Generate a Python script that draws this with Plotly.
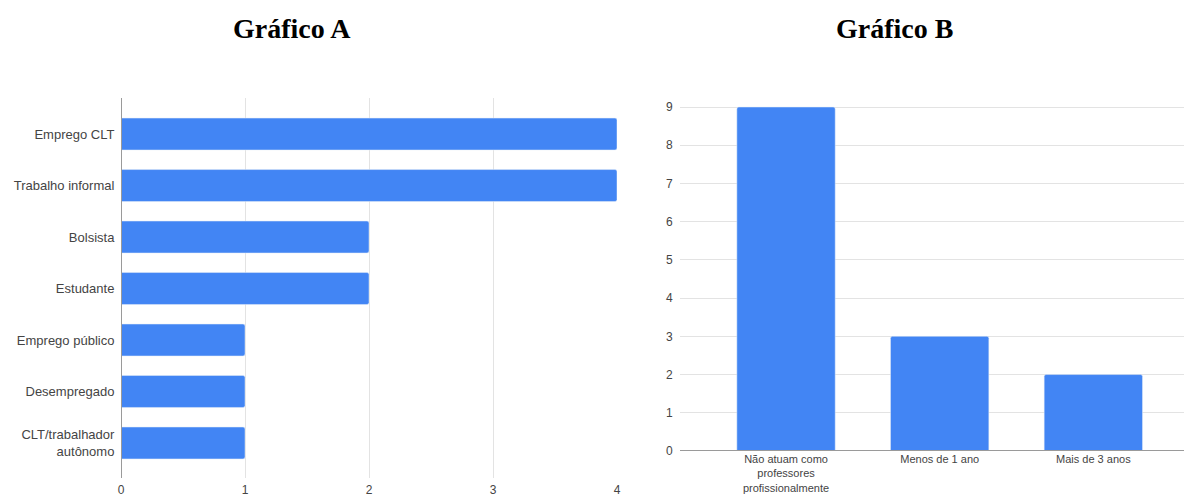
import plotly.graph_objects as go

W, H = 1184, 498

# Data
cats_a = ["Emprego CLT", "Trabalho informal", "Bolsista", "Estudante",
          "Emprego público", "Desempregado", "CLT/trabalhador<br>autônomo"]
vals_a = [4, 4, 2, 2, 1, 1, 1]
ticks_a = [0, 1, 2, 3, 4]

cats_b = ["Não atuam como<br>professores<br>profissionalmente", "Menos de 1 ano", "Mais de 3 anos"]
vals_b = [9, 3, 2]
ticks_b = list(range(0, 10))

title_a = "Gráfico A"
title_b = "Gráfico B"

BLUE = "#4285F4"
GRID = "#e3e3e3"
AXIS = "#9a9a9a"
LABEL = "#444444"

def px(x):
    return x / W

def py(y):
    return 1 - y / H

fig = go.Figure()

fig.add_trace(go.Bar(
    x=vals_a, y=cats_a, orientation="h", marker_color=BLUE, width=0.62,
    xaxis="x", yaxis="y", showlegend=False, hoverinfo="x+y",
))
fig.add_trace(go.Bar(
    x=cats_b, y=vals_b, marker_color=BLUE, width=0.64,
    xaxis="x2", yaxis="y2", showlegend=False,
))

font_family = "Liberation Sans, Arial, sans-serif"

fig.update_layout(
    width=W, height=H,
    margin=dict(l=0, r=0, t=0, b=0),
    paper_bgcolor="white", plot_bgcolor="white",
    barcornerradius=2,
    xaxis=dict(
        domain=[px(121), px(617)], range=[0, 4], tickvals=ticks_a,
        showgrid=True, gridcolor=GRID, gridwidth=1, zeroline=False,
        showline=False, tickfont=dict(family=font_family, size=12, color=LABEL),
        automargin=False,
        ticks="outside", ticklen=1, tickcolor="rgba(0,0,0,0)",
        anchor="y", fixedrange=True,
    ),
    yaxis=dict(
        domain=[py(478), py(98)], type="category", range=[6.68, -0.7],
        showgrid=False, zeroline=False, showline=False, automargin=False,
        tickfont=dict(family=font_family, size=13, color=LABEL),
        ticks="outside", ticklen=3, tickcolor="rgba(0,0,0,0)",
        anchor="x", fixedrange=True,
    ),
    xaxis2=dict(
        domain=[px(680), 1.0], range=[-0.69, 2.59], type="category",
        showgrid=False, zeroline=False, showline=False, automargin=False,
        tickfont=dict(family=font_family, size=11, color=LABEL),
        ticks="", ticklen=0,
        anchor="y2", fixedrange=True,
    ),
    yaxis2=dict(
        domain=[py(451), py(451 - 9.3 * 38.22)], range=[0, 9.3], tickvals=ticks_b,
        showgrid=True, gridcolor=GRID, gridwidth=1,
        zeroline=False, showline=False, automargin=False,
        tickfont=dict(family=font_family, size=12, color=LABEL),
        ticks="outside", ticklen=4, tickcolor="rgba(0,0,0,0)",
        anchor="x2", fixedrange=True,
    ),
    annotations=[
        dict(text=f"<b>{title_a}</b>", x=px(292), y=py(28), xref="paper", yref="paper",
             showarrow=False, xanchor="center", yanchor="middle",
             font=dict(family="Liberation Serif, Times New Roman, serif", size=28, color="black")),
        dict(text=f"<b>{title_b}</b>", x=px(894), y=py(28), xref="paper", yref="paper",
             showarrow=False, xanchor="center", yanchor="middle",
             font=dict(family="Liberation Serif, Times New Roman, serif", size=28, color="black")),
    ],
    shapes=[
        # left vertical baseline at x=0
        dict(type="line", xref="x", yref="paper", x0=0, x1=0, y0=py(478), y1=py(98),
             line=dict(color=AXIS, width=2), layer="above"),
        # right horizontal baseline at y=0
        dict(type="line", xref="paper", yref="y2", x0=px(680), x1=1.0, y0=0, y1=0,
             line=dict(color=AXIS, width=2), layer="above"),
    ],
)

fig.write_html("out.html")
